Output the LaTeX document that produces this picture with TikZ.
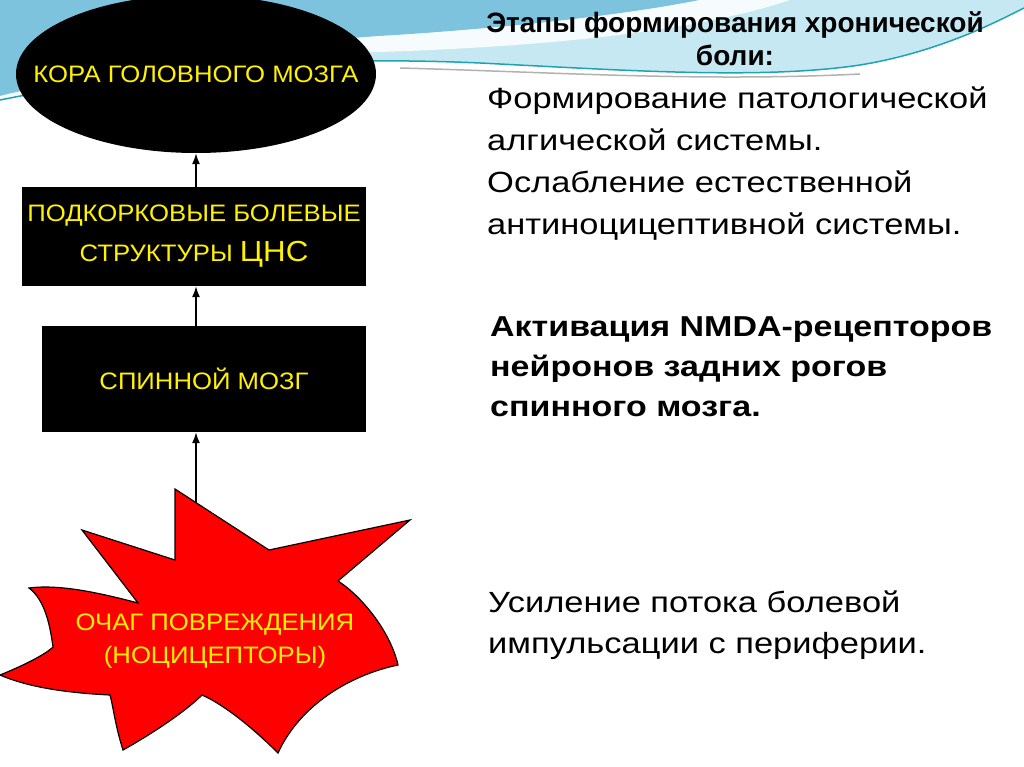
\documentclass[tikz,border=0pt]{standalone}
\usepackage{fontspec}
\setmainfont{Liberation Sans}
\setsansfont{Liberation Sans}
\newfontfamily\wideFont[FakeStretch=1.18]{Liberation Sans}
\newfontfamily\labelFont[FakeStretch=1.08]{Liberation Sans}
\usetikzlibrary{arrows.meta}
\usetikzlibrary{shapes}

\definecolor{waveblue}{HTML}{7DC3DE}
\definecolor{wavelight}{HTML}{C6E8F3}
\definecolor{waveteal}{HTML}{1FA3B3}

\begin{document}
\begin{tikzpicture}[x = 1pt, y = -1pt, font=\sffamily]
	\tikzstyle{labelStyle}=[text = yellow, align = center, font = \labelFont\fontsize{23.8}{40}\selectfont]
	\tikzstyle{cortexStyle}=[labelStyle, shape = ellipse, fill = black, minimum width = 360pt, minimum height = 158pt, inner xsep = -45pt, inner ysep = 0pt]
	\tikzstyle{boxStyle}=[labelStyle, shape = rectangle, fill = black, inner sep = 0pt]
	\tikzstyle{arrowStyle}=[-{Latex[length = 11pt, width = 8pt]}, line width = 1.5pt]
	\tikzstyle{plainText}=[anchor = west, align = left, inner sep = 0pt, font = \wideFont\fontsize{29.2}{42}\selectfont]
	\useasboundingbox[fill = white] (0,0) rectangle (1024,767);
	\fill[wavelight] (0,0) -- (1024,0) -- (1024,8) .. controls (1000,20) and (940,52) .. (860,65) .. controls (760,80) and (620,70) .. (480,63) .. controls (300,55) and (150,70) .. (0,100) -- cycle;
	\fill[waveblue] (0,0) -- (700,0) .. controls (600,20) and (450,32) .. (380,36) .. controls (250,45) and (100,72) .. (0,96) -- cycle;
	\fill[white, opacity = 0.85] (700,0) -- (790,0) .. controls (700,30) and (560,46) .. (380,52) .. controls (250,58) and (100,78) .. (0,100) -- (0,96) .. controls (100,72) and (250,45) .. (380,36) .. controls (450,32) and (600,20) .. cycle;
	\draw[gray!60, line width = 1.5pt] (400,68) .. controls (550,72) and (700,82) .. (860,74);
	\draw[waveteal, line width = 1.5pt] (0,100) .. controls (150,70) and (300,55) .. (480,63) .. controls (620,70) and (760,80) .. (860,65) .. controls (940,52) and (1000,20) .. (1024,8);
	\node[cortexStyle] (cortex) at (196,74) {КОРА ГОЛОВНОГО МОЗГА};
	\node[boxStyle, minimum width = 344pt, minimum height = 99pt] (subcortex) at (194,236.5) {ПОДКОРКОВЫЕ БОЛЕВЫЕ\\СТРУКТУРЫ {\fontsize{29}{40}\selectfont ЦНС}};
	\node[boxStyle, minimum width = 324pt, minimum height = 106pt] (spinal) at (204,379) {СПИННОЙ МОЗГ};
	\fill[red, draw = black, line width = 1.2pt] (175,489) -- (269,550) -- (410,520) -- (338,581) .. controls (360,595) and (390,630) .. (398,665) .. controls (350,675) and (300,705) .. (278,753) .. controls (255,730) and (225,705) .. (202,695) .. controls (185,712) and (150,735) .. (123,750) .. controls (115,725) and (113,705) .. (110,695) .. controls (70,693) and (30,688) .. (0,675) .. controls (20,667) and (45,655) .. (53,647) .. controls (50,625) and (45,600) .. (29,588) .. controls (60,584) and (100,593) .. (138,603) -- (82,530) -- (175,560) -- cycle;
	\coordinate (focusTop) at (196,502);
	\node[labelStyle, font = \labelFont\fontsize{23.8}{33}\selectfont] (focus) at (215,641) {ОЧАГ ПОВРЕЖДЕНИЯ\\(НОЦИЦЕПТОРЫ)};
	\draw[arrowStyle] (focusTop) -- (spinal.south -| focusTop);
	\draw[arrowStyle] (spinal.north -| cortex.south) -- (subcortex.south -| cortex.south);
	\draw[arrowStyle] (subcortex.north -| cortex.south) -- (cortex.south);
	\node[align = center, inner sep = 0pt, font = \bfseries\fontsize{28}{33}\selectfont] (title) at (735,39) {Этапы формирования хронической\\боли:};
	\node[plainText] (stages) at (487,164) {Формирование патологической\\алгической системы.\\Ослабление естественной\\антиноцицептивной системы.};
	\node[plainText, font = \wideFont\bfseries\fontsize{28.8}{40}\selectfont] (nmda) at (490,367) {Активация NMDA-рецепторов\\нейронов задних рогов\\спинного мозга.};
	\node[plainText, font = \wideFont\fontsize{29.2}{41}\selectfont] (flow) at (488,625) {Усиление потока болевой\\импульсации с периферии.};
\end{tikzpicture}
\end{document}
